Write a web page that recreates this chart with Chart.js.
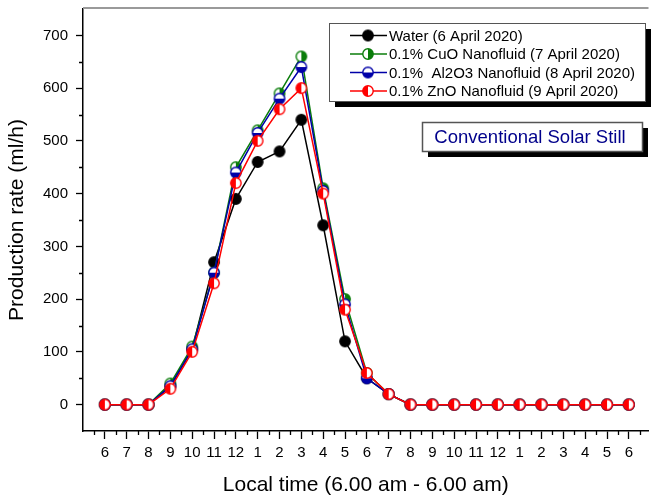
<!DOCTYPE html>
<html>
<head>
<meta charset="utf-8">
<script src="https://cdn.jsdelivr.net/npm/chart.js@4"></script>
<style>
  body { margin: 0; background: #fff; }
  #wrap { width: 654px; height: 500px; }
</style>
</head>
<body>
<div id="wrap"><canvas id="stillChart" width="654" height="500"></canvas></div>
<script>
// Hourly values, 6 am to 6 am next day
const timeLabels = ['6','7','8','9','10','11','12','1','2','3','4','5','6','7','8','9','10','11','12','1','2','3','4','5','6'];
const water = [0,0,0,35,105,270,390,460,480,540,340,120,50,20,0,0,0,0,0,0,0,0,0,0,0];
const cuo   = [0,0,0,40,110,250,450,520,590,660,410,200,60,20,0,0,0,0,0,0,0,0,0,0,0];
const al2o3 = [0,0,0,35,105,250,440,515,580,640,405,190,50,20,0,0,0,0,0,0,0,0,0,0,0];
const zno   = [0,0,0,30,100,230,420,500,560,600,400,180,60,20,0,0,0,0,0,0,0,0,0,0,0];
const yTicks = [0,100,200,300,400,500,600,700];
const seriesNames = [
    'Water (6 April 2020)',
    '0.1% CuO Nanofluid (7 April 2020)',
    '0.1%  Al2O3 Nanofluid (8 April 2020)',
    '0.1% ZnO Nanofluid (9 April 2020)'
];

const FONT = '"Liberation Sans", Arial, sans-serif';

// half-filled circle markers, like the Origin symbols
function makeMarker(color, half) {
    const c = document.createElement('canvas');
    c.width = 14; c.height = 14;
    const g = c.getContext('2d');
    const r = 5.2;
    g.beginPath();
    g.arc(7, 7, r, 0, Math.PI * 2);
    g.fillStyle = half === 'full' ? color : '#fff';
    g.fill();
    if (half !== 'full') {
        let a0 = 0, a1 = Math.PI; // bottom
        if (half === 'right') { a0 = -Math.PI / 2; a1 = Math.PI / 2; }
        if (half === 'left') { a0 = Math.PI / 2; a1 = Math.PI * 1.5; }
        g.beginPath();
        g.moveTo(7, 7);
        g.arc(7, 7, r, a0, a1);
        g.closePath();
        g.fillStyle = color;
        g.fill();
    }
    g.beginPath();
    g.arc(7, 7, r, 0, Math.PI * 2);
    g.lineWidth = 1.4;
    g.strokeStyle = color;
    g.stroke();
    return c;
}

const colors = ['#000000', '#0a7d0a', '#0000a8', '#ff0000'];
const markers = [
    makeMarker(colors[0], 'full'),
    makeMarker(colors[1], 'right'),
    makeMarker(colors[2], 'bottom'),
    makeMarker(colors[3], 'left')
];
const seriesData = [water, cuo, al2o3, zno];

const datasets = seriesData.map((arr, k) => ({
    label: seriesNames[k],
    data: arr.map((v, i) => ({ x: i, y: v })),
    borderColor: colors[k],
    backgroundColor: colors[k],
    borderWidth: 1.5,
    pointStyle: markers[k],
    tension: 0,
    order: 4 - k // ZnO drawn on top
}));

// minor ticks, top frame line, legend box and label box
const decorations = {
    id: 'decorations',
    afterDraw(chart) {
        const ctx = chart.ctx;
        const xs = chart.scales.x, ys = chart.scales.y;
        const area = chart.chartArea;
        ctx.save();
        ctx.strokeStyle = '#000';
        ctx.lineWidth = 1.3;
        ctx.beginPath();
        for (let i = -0.5; i < timeLabels.length; i += 1) {
            const px = Math.round(xs.getPixelForValue(i)) + 0.5;
            ctx.moveTo(px, area.bottom);
            ctx.lineTo(px, area.bottom + 4);
        }
        for (let v = 50; v < 750; v += 100) {
            const py = Math.round(ys.getPixelForValue(v)) + 0.5;
            ctx.moveTo(area.left - 4, py);
            ctx.lineTo(area.left, py);
        }
        ctx.stroke();

        // top frame
        ctx.strokeStyle = '#9a9a9a';
        ctx.lineWidth = 2;
        ctx.beginPath();
        ctx.moveTo(area.left, area.top - 1);
        ctx.lineTo(area.right, area.top - 1);
        ctx.stroke();

        // legend box
        const lx = 329, ly = 23, lw = 316, lh = 78;
        ctx.fillStyle = '#000';
        ctx.fillRect(lx + 6, ly + 6, lw, lh);
        ctx.fillStyle = '#fff';
        ctx.fillRect(lx, ly, lw, lh);
        ctx.strokeStyle = '#555';
        ctx.lineWidth = 1;
        ctx.strokeRect(lx + 0.5, ly + 0.5, lw, lh);
        ctx.font = '15px ' + FONT;
        ctx.textBaseline = 'middle';
        ctx.textAlign = 'left';
        seriesNames.forEach((name, k) => {
            const ry = 35.5 + k * 18.5;
            ctx.strokeStyle = colors[k];
            ctx.lineWidth = 1.5;
            ctx.beginPath();
            ctx.moveTo(350, ry);
            ctx.lineTo(387, ry);
            ctx.stroke();
            ctx.drawImage(markers[k], 368 - 7, ry - 7);
            ctx.fillStyle = '#000';
            ctx.fillText(name, 389, ry + 1);
        });

        // label box
        const bx = 422, by = 122, bw = 220, bh = 29;
        ctx.fillStyle = '#000';
        ctx.fillRect(bx + 6, by + 6, bw, bh);
        ctx.fillStyle = '#fff';
        ctx.fillRect(bx, by, bw, bh);
        ctx.strokeStyle = '#555';
        ctx.strokeRect(bx + 0.5, by + 0.5, bw, bh);
        ctx.font = '18.5px ' + FONT;
        ctx.fillStyle = '#00008b';
        ctx.textAlign = 'center';
        ctx.fillText('Conventional Solar Still', bx + bw / 2 - 2, by + bh / 2 + 1);
        ctx.restore();
    }
};

const stillCtx = document.getElementById('stillChart').getContext('2d');
const stillChart = new Chart(stillCtx, {
    type: 'line',
    data: { datasets: datasets },
    options: {
        responsive: false,
        animation: false,
        devicePixelRatio: 1,
        layout: { padding: { top: 9, right: 0, left: 0, bottom: 0 } },
        plugins: {
            legend: { display: false },
            tooltip: { enabled: false }
        },
        scales: {
            x: {
                type: 'linear',
                min: -1,
                max: 24.9,
                afterBuildTicks: (axis) => {
                    axis.ticks = timeLabels.map((_, i) => ({ value: i }));
                },
                afterFit: (s) => {
                    s.height = 69;
                    s.paddingLeft = 0; s.paddingRight = 0;
                },
                ticks: {
                    callback: (v) => timeLabels[v] !== undefined ? timeLabels[v] : '',
                    autoSkip: false,
                    maxRotation: 0,
                    padding: 5,
                    color: '#000',
                    font: { family: FONT, size: 15 }
                },
                grid: {
                    drawOnChartArea: false,
                    tickLength: 8,
                    tickColor: '#000',
                    tickWidth: 1.3
                },
                border: { color: '#000', width: 1.5 },
                title: {
                    display: true,
                    text: 'Local time (6.00 am - 6.00 am)',
                    color: '#000',
                    font: { family: FONT, size: 21 },
                    padding: { top: 0, bottom: 2 }
                }
            },
            y: {
                min: -50,
                max: 750,
                afterBuildTicks: (axis) => {
                    axis.ticks = yTicks.map(v => ({ value: v }));
                },
                afterFit: (s) => {
                    s.width = 83;
                    s.paddingTop = 0; s.paddingBottom = 0;
                },
                ticks: {
                    padding: 8,
                    color: '#000',
                    font: { family: FONT, size: 15 }
                },
                grid: {
                    drawOnChartArea: false,
                    tickLength: 7,
                    tickColor: '#000',
                    tickWidth: 1.3
                },
                border: { color: '#000', width: 1.5 },
                title: {
                    display: true,
                    text: 'Production rate (ml/h)',
                    color: '#000',
                    font: { family: FONT, size: 21 },
                    padding: { top: 5, bottom: 0 }
                }
            }
        }
    },
    plugins: [decorations]
});
</script>
</body>
</html>
